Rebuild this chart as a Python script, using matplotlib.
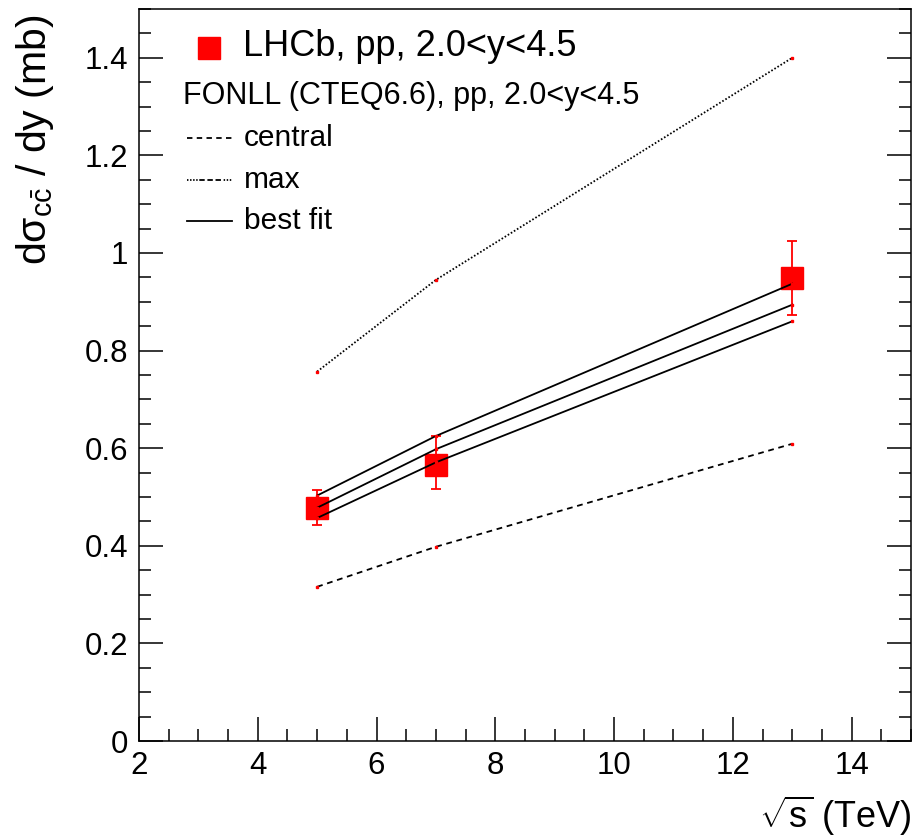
import matplotlib
matplotlib.use("Agg")
import matplotlib.pyplot as plt
from matplotlib.ticker import MultipleLocator

plt.rcParams["font.family"] = ["Liberation Sans", "DejaVu Sans"]
plt.rcParams["mathtext.fontset"] = "custom"
plt.rcParams["mathtext.rm"] = "Liberation Sans"
plt.rcParams["mathtext.it"] = "Liberation Sans"
plt.rcParams["mathtext.bf"] = "Liberation Sans:bold"

# LHCb measurements (mb) vs sqrt(s) (TeV)
lhcb_x = [5, 7, 13]
lhcb_y = [0.477, 0.566, 0.948]
lhcb_err_lo = [0.034, 0.050, 0.075]
lhcb_err_hi = [0.038, 0.058, 0.076]

# FONLL (CTEQ6.6) predictions
fonll_x = [5, 7, 13]
central = [0.316, 0.398, 0.609]
maximum = [0.757, 0.945, 1.400]

# best fit (central and band)
fit_mid = [0.478, 0.598, 0.894]
fit_hi = [0.503, 0.625, 0.937]
fit_lo = [0.457, 0.571, 0.860]

fig = plt.figure(figsize=(9.14, 8.38), dpi=100)
ax = fig.add_axes([139 / 914, 1 - 741 / 838, 772 / 914, 732 / 838])

line_kw = dict(color="black", lw=1.3, marker="s", markersize=1.6,
               markerfacecolor="red", markeredgecolor="red", zorder=4)
ax.plot(fonll_x, central, linestyle=(0, (3.2, 2.6)), **line_kw)
ax.plot(fonll_x, maximum, linestyle=(0, (0.9, 1.1)), **line_kw)
for ys in (fit_hi, fit_mid, fit_lo):
    ax.plot(fonll_x, ys, linestyle="-", **line_kw)

ax.errorbar(lhcb_x, lhcb_y, yerr=[lhcb_err_lo, lhcb_err_hi], fmt="s",
            color="red", markersize=16, elinewidth=1.3, capsize=3.6,
            capthick=1.3, zorder=3)

ax.set_xlim(2, 15)
ax.set_ylim(0, 1.5)
ax.xaxis.set_major_locator(MultipleLocator(2))
ax.xaxis.set_minor_locator(MultipleLocator(0.5))
ax.yaxis.set_major_locator(MultipleLocator(0.2))
ax.yaxis.set_minor_locator(MultipleLocator(0.05))
ax.set_yticks([0, 0.2, 0.4, 0.6, 0.8, 1.0, 1.2, 1.4])
ax.set_yticklabels(["0", "0.2", "0.4", "0.6", "0.8", "1", "1.2", "1.4"])

ax.tick_params(which="both", direction="in", left=True, right=True,
               top=False, bottom=True, width=1.1, labelsize=22.5)
ax.tick_params(which="major", length=17, pad=7)
ax.tick_params(which="minor", length=8.6)
ax.tick_params(axis="y", which="major", pad=8)
for sp in ax.spines.values():
    sp.set_linewidth(1.1)

ax.set_ylabel(r"d$\sigma_{c\bar{c}}$ / dy (mb)", fontsize=29.5)
ax.yaxis.set_label_coords(-0.135, 0.992)
ax.yaxis.label.set_ha("right")
ax.yaxis.label.set_va("center")
ax.set_xlabel(r"$\sqrt{s}$ (TeV)", fontsize=26)
ax.xaxis.set_label_coords(1.0, -0.103)
ax.xaxis.label.set_ha("right")
ax.xaxis.label.set_va("center")

# legend (ROOT-style, drawn by hand in axes coordinates)
def ax_xy(px, py):
    return (px - 139) / 772, (741 - py) / 732

tr = ax.transAxes
ax.plot(*ax_xy(209, 48), marker="s", color="red", markersize=16,
        transform=tr, clip_on=False)
ax.text(*ax_xy(243, 47), "LHCb, pp, 2.0<y<4.5", transform=tr,
        fontsize=26, va="center", ha="left")
ax.text(*ax_xy(183, 96), "FONLL (CTEQ6.6), pp, 2.0<y<4.5", transform=tr,
        fontsize=22, va="center", ha="left")
legend_rows = [
    ("central", 138, (0, (3.0, 2.4))),
    ("max", 180, (0, (0.8, 0.9, 0.8, 0.9, 0.8, 0.9, 0.8, 0.9, 3.0, 1.5, 3.0, 1.5, 3.0, 1.5))),
    ("best fit", 221, "-"),
]
for name, py, ls in legend_rows:
    x0, y0 = ax_xy(187, py)
    x1, _ = ax_xy(232, py)
    ax.plot([x0, x1], [y0, y0], color="black", lw=1.3, linestyle=ls,
            transform=tr, clip_on=False)
    ax.text(*ax_xy(244, py), name, transform=tr, fontsize=21.5,
            va="center", ha="left")

fig.savefig("out.png", dpi=100)
